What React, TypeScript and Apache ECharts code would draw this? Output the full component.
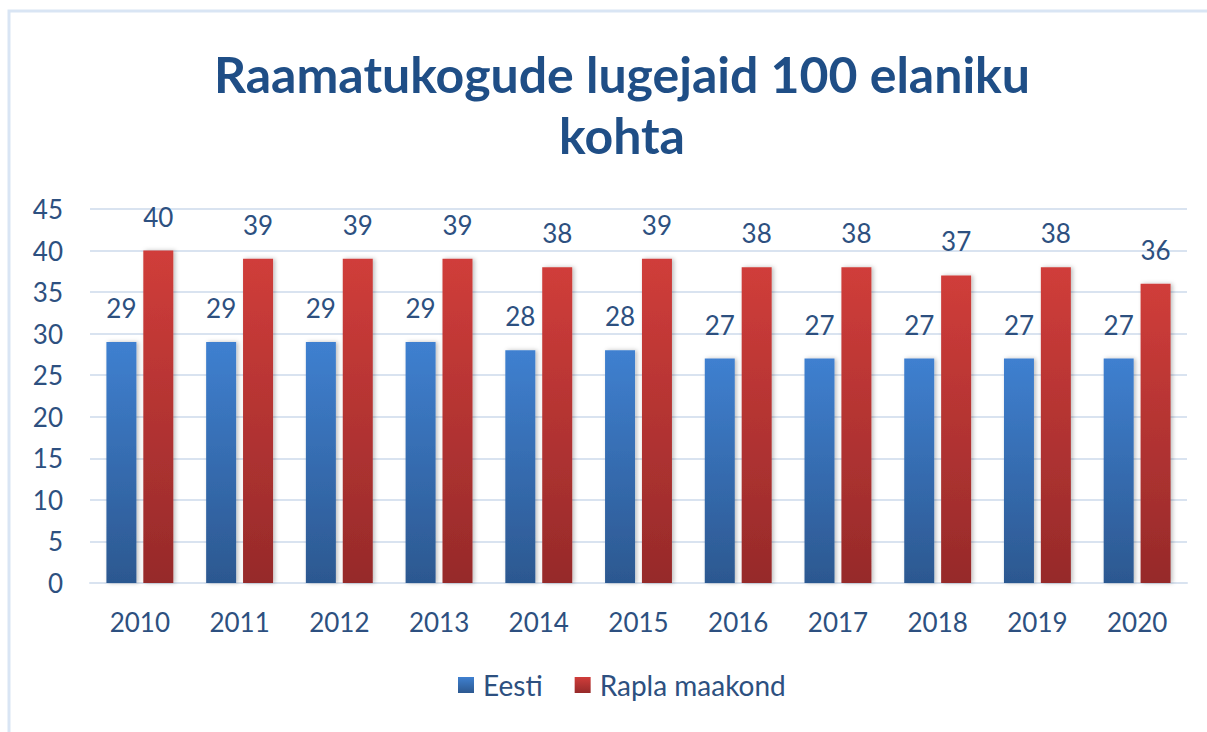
import React, { useEffect, useRef } from "react";
import * as echarts from "echarts";

const years = ["2010", "2011", "2012", "2013", "2014", "2015", "2016", "2017", "2018", "2019", "2020"];
const eesti = [29, 29, 29, 29, 28, 28, 27, 27, 27, 27, 27];
const rapla = [40, 39, 39, 39, 38, 39, 38, 38, 37, 38, 36];
const seriesNames = ["Eesti", "Rapla maakond"];
const titleText = "Raamatukogude lugejaid 100 elaniku\nkohta";

const FONT = "Lato, 'Open Sans', sans-serif";
const TEXT = "#2d5080";

export default function App() {
  const ref = useRef<HTMLDivElement>(null);
  useEffect(() => {
    if (!ref.current) return;
    const chart = echarts.init(ref.current, undefined, { renderer: "svg" });
    const blue = new echarts.graphic.LinearGradient(0, 0, 0, 1, [
      { offset: 0, color: "#3f80d0" },
      { offset: 1, color: "#2c5890" },
    ]);
    const red = new echarts.graphic.LinearGradient(0, 0, 0, 1, [
      { offset: 0, color: "#d03d3a" },
      { offset: 1, color: "#962a2a" },
    ]);
    const label = {
      show: true,
      position: "top",
      distance: 21,
      color: TEXT,
      fontFamily: FONT,
      fontSize: 26,
    };
    chart.setOption({
      animation: false,
      backgroundColor: "#ffffff",
      textStyle: { fontFamily: FONT },
      title: {
        text: titleText,
        left: 617,
        textAlign: "center",
        top: 38,
        textStyle: {
          color: "#1f4e86",
          fontFamily: FONT,
          fontWeight: "bold",
          fontSize: 50,
          lineHeight: 61,
        },
      },
      graphic: [
        {
          type: "polyline",
          shape: { points: [[9, 740], [9, 11], [1210, 11]] },
          style: { stroke: "#d9e5f4", lineWidth: 3, fill: null },
          silent: true,
        },
      ],
      legend: {
        data: seriesNames,
        bottom: 28,
        left: 453,
        itemWidth: 16,
        itemHeight: 16,
        itemGap: 32,
        icon: "rect",
        textStyle: { color: TEXT, fontFamily: FONT, fontSize: 28, padding: [0, 0, 0, 4] },
      },
      grid: { left: 90, right: 20, top: 209, bottom: 149 },
      xAxis: {
        type: "category",
        data: years,
        axisLine: { show: true, lineStyle: { color: "#d9e3f0", width: 2 } },
        axisTick: { show: false },
        axisLabel: { color: TEXT, fontFamily: FONT, fontSize: 26, margin: 26 },
      },
      yAxis: {
        type: "value",
        min: 0,
        max: 45,
        interval: 5,
        axisLine: { show: false },
        axisTick: { show: false },
        splitLine: { lineStyle: { color: "#d9e3f0", width: 2 } },
        axisLabel: { color: TEXT, fontFamily: FONT, fontSize: 26, margin: 27 },
      },
      series: [
        {
          name: seriesNames[0],
          type: "bar",
          data: eesti,
          barWidth: 30,
          barGap: "23%",
          itemStyle: {
            color: blue,
            shadowColor: "rgba(0,0,0,0.25)",
            shadowBlur: 4,
            shadowOffsetX: 2,
          },
          label,
        },
        {
          name: seriesNames[1],
          type: "bar",
          data: rapla,
          barWidth: 30,
          barGap: "23%",
          itemStyle: {
            color: red,
            shadowColor: "rgba(0,0,0,0.25)",
            shadowBlur: 4,
            shadowOffsetX: 2,
          },
          label,
        },
      ],
    });
    return () => chart.dispose();
  }, []);
  return (
    <div
      ref={ref}
      style={{ position: "fixed", left: 0, top: 0, width: 1207, height: 732 }}
    />
  );
}
